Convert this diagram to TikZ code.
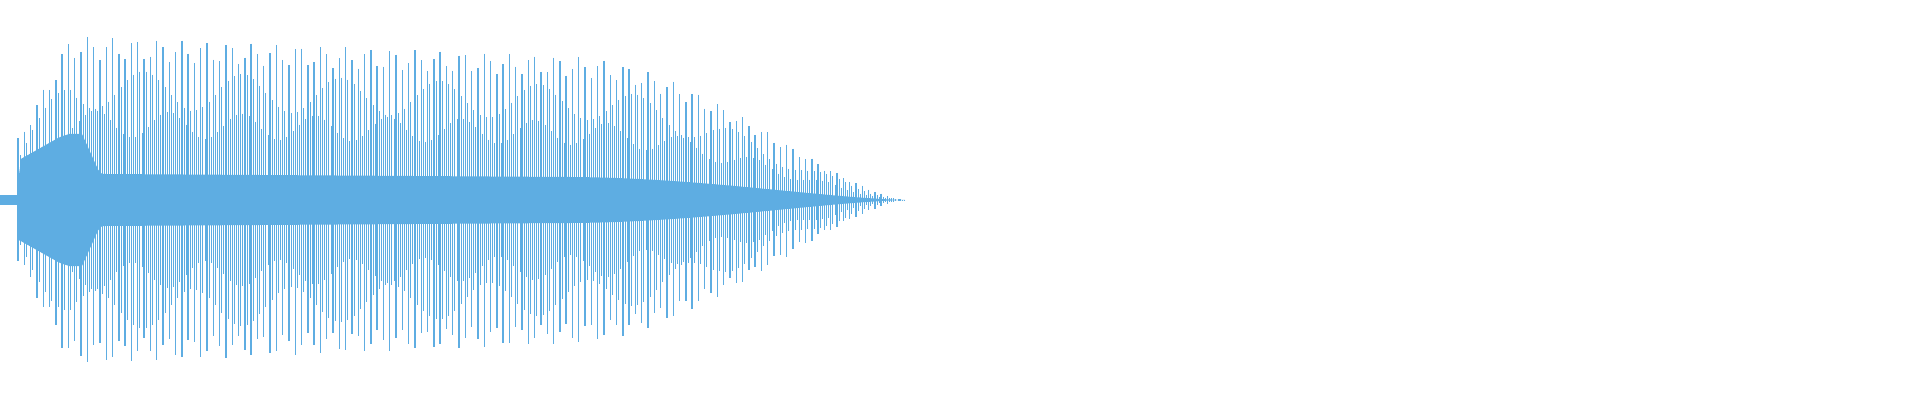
\documentclass[tikz,border=0pt]{standalone}
\definecolor{wave}{RGB}{94,173,226}
\begin{document}
\begin{tikzpicture}[x=1pt,y=1pt,
  stroke/.style={draw=wave,line width=1.4pt},
  declare function={
    envA(\x)=60+1.962*min(53,max(0,\x-17));
    envB(\x)=164-0.0408*min(490,max(0,\x-70));
    envC(\x)=144*(max(0.0001,cos(max(0,min(1,(\x-560)/345))*90)))^1.4;
    env(\x)=(\x<70)*envA(\x)+(\x>=70)*(\x<560)*envB(\x)+(\x>=560)*envC(\x);
    bump(\x)=(\x<100)*(\x>17)*(30+0.25*min(40,max(0,\x-20)))*min(1,max(0,(100-\x)/18));
    band(\x)=0.16*env(\x)+bump(\x);
  }]
\useasboundingbox (0,0) rectangle (1920,400);
\fill[wave] (0,195) rectangle (17,205);
\fill[wave] plot[domain=17:905,samples=220] (\x,{200+band(\x)}) -- plot[domain=905:17,samples=220] (\x,{200-band(\x)}) -- cycle;
\foreach \i in {0,...,140}{
  \pgfmathsetmacro{\xx}{18+\i*6.3}
  \pgfmathsetmacro{\aa}{env(\xx)*(0.93+0.07*cos(\i*97))}
  \pgfmathsetmacro{\bb}{env(\xx)*(0.93+0.07*cos(\i*97+40))}
  \draw[stroke] (\xx,{200+\aa}) -- (\xx,{200-\bb});
  \pgfmathsetmacro{\cc}{env(\xx+2.1)*0.8*(0.85+0.15*sin(\i*23))}
  \draw[stroke,line width=0.7pt] ({\xx+2.1},{200+\cc}) -- ({\xx+2.1},{200-\cc});
  \pgfmathsetmacro{\dd}{env(\xx+4.2)*0.55*(0.85+0.15*cos(\i*31))}
  \draw[stroke,line width=0.7pt] ({\xx+4.2},{200+\dd}) -- ({\xx+4.2},{200-\dd});
}
\end{tikzpicture}
\end{document}
